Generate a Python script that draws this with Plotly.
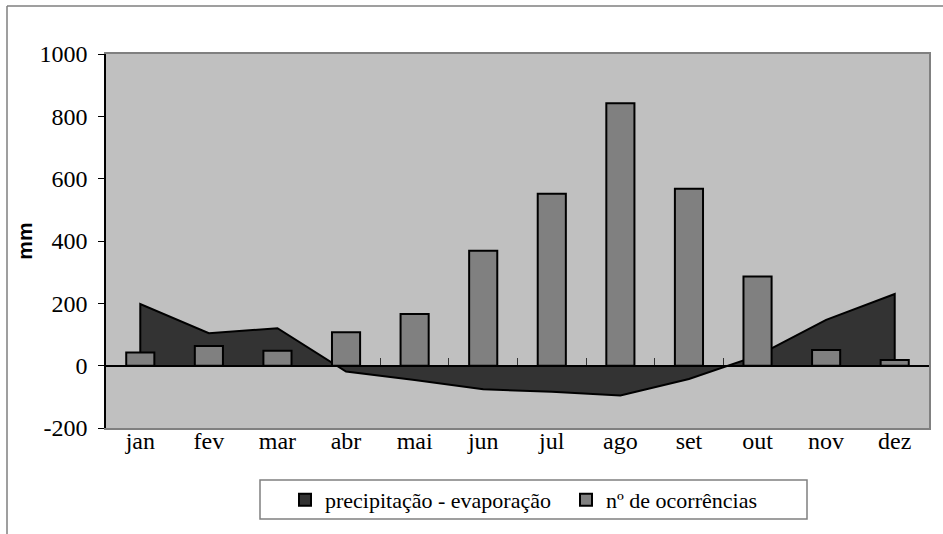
import plotly.graph_objects as go

# Monthly data
months = ["jan", "fev", "mar", "abr", "mai", "jun", "jul", "ago", "set", "out", "nov", "dez"]
balance = [198, 104, 120, -19, -46, -76, -84, -96, -43, 32, 147, 230]      # precipitação - evaporação (mm)
occurrences = [42, 63, 48, 107, 166, 369, 552, 842, 568, 286, 50, 18]      # nº de ocorrências

y_min, y_max = -200, 1000
y_ticks = list(range(y_min, y_max + 1, 200))
y_tick_text = [str(v) for v in y_ticks]

W, H = 943, 534
ML, MR, MT, MB = 106, 14, 54, 106
plot_w = W - ML - MR
plot_h = H - MT - MB

serif = "Liberation Serif, Times New Roman, serif"
sans = "Liberation Sans, Arial, sans-serif"

x_range = [-0.5, len(months) - 0.5]
boundaries = [i - 0.5 for i in range(len(months) + 1)]
zero_pos = (0 - y_min) / (y_max - y_min)


def px_x(px):
    return (px - ML) / plot_w


def px_y(py):
    return (H - MB - py) / plot_h


fig = go.Figure()

# legend entry for the area series (square swatch)
fig.add_trace(go.Bar(
    x=[None], y=[None], name="precipitação - evaporação",
    marker=dict(color="#333333", line=dict(color="black", width=1.5)),
    xaxis="x", yaxis="y", showlegend=True,
))

# closed polygon from the balance series, anchored on the zero line at both ends
area_x = [months[0]] + months + [months[-1]]
area_y = [0] + balance + [0]
fig.add_trace(go.Scatter(
    x=area_x, y=area_y, mode="lines", fill="toself",
    fillcolor="#333333", line=dict(color="black", width=2),
    showlegend=False, hoverinfo="skip", xaxis="x", yaxis="y",
))

# columns drawn on an overlaid subplot so they sit in front of the area
fig.add_trace(go.Bar(
    x=months, y=occurrences, name="nº de ocorrências", width=0.41,
    marker=dict(color="#808080", line=dict(color="black", width=2)),
    xaxis="x2", yaxis="y2", showlegend=True,
))

fig.update_layout(
    width=W, height=H,
    margin=dict(l=ML, r=MR, t=MT, b=MB),
    paper_bgcolor="white",
    plot_bgcolor="#c0c0c0",
    barmode="overlay",
    xaxis=dict(
        type="category", categoryarray=months, range=x_range,
        showline=True, linecolor="#808080", linewidth=2, mirror=True,
        ticks="", showgrid=False, zeroline=False,
        tickfont=dict(family=serif, size=24, color="black"),
        ticklabelstandoff=-10,
    ),
    yaxis=dict(
        range=[y_min, y_max], tickvals=y_ticks, ticktext=y_tick_text,
        showline=True, linecolor="black", linewidth=1.5,
        ticks="outside", ticklen=6, tickcolor="black", tickwidth=1,
        showgrid=False, zeroline=False,
        tickfont=dict(family=serif, size=24, color="black"),
        ticklabelstandoff=6,
        title=dict(text="mm", font=dict(family=sans, size=21, color="black", weight="bold"), standoff=1),
    ),
    xaxis2=dict(
        type="category", categoryarray=months, range=x_range,
        overlaying="x", anchor="free", position=zero_pos, side="bottom",
        showline=True, linecolor="black", linewidth=1.5,
        ticks="inside", ticklen=7, tickcolor="#333333", tickwidth=1, tickson="boundaries",
        showticklabels=False, showgrid=False, zeroline=False,
    ),
    yaxis2=dict(
        range=[y_min, y_max], overlaying="y", side="right",
        showline=True, linecolor="#808080", linewidth=2,
        ticks="", showticklabels=False, showgrid=False, zeroline=False,
    ),
    xaxis3=dict(
        range=x_range, overlaying="x", anchor="free", position=zero_pos, side="bottom",
        tickvals=boundaries, ticks="outside", ticklen=7, tickcolor="#333333", tickwidth=1,
        showline=False, showticklabels=False, showgrid=False, zeroline=False,
    ),
    legend=dict(
        orientation="h", x=px_x(285), xanchor="left",
        y=px_y(500), yanchor="middle",
        borderwidth=0, bgcolor="rgba(0,0,0,0)",
        font=dict(family=serif, size=22, color="black"),
        traceorder="normal", itemsizing="constant",
        entrywidth=236, entrywidthmode="pixels",
    ),
)

# legend frame
fig.add_shape(type="rect", xref="paper", yref="paper",
              x0=px_x(260), x1=px_x(807), y0=px_y(519), y1=px_y(480),
              line=dict(color="#808080", width=1.5), fillcolor="white", layer="below")

# outer chart frame (top and left edges)
fx, fy = px_x(7), px_y(6)
fig.add_shape(type="line", xref="paper", yref="paper", x0=fx, x1=1.2, y0=fy, y1=fy,
              line=dict(color="#7f7f7f", width=1.5))
fig.add_shape(type="line", xref="paper", yref="paper", x0=fx, x1=fx, y0=fy, y1=-0.5,
              line=dict(color="#7f7f7f", width=1.5))

fig.write_html("out.html")
